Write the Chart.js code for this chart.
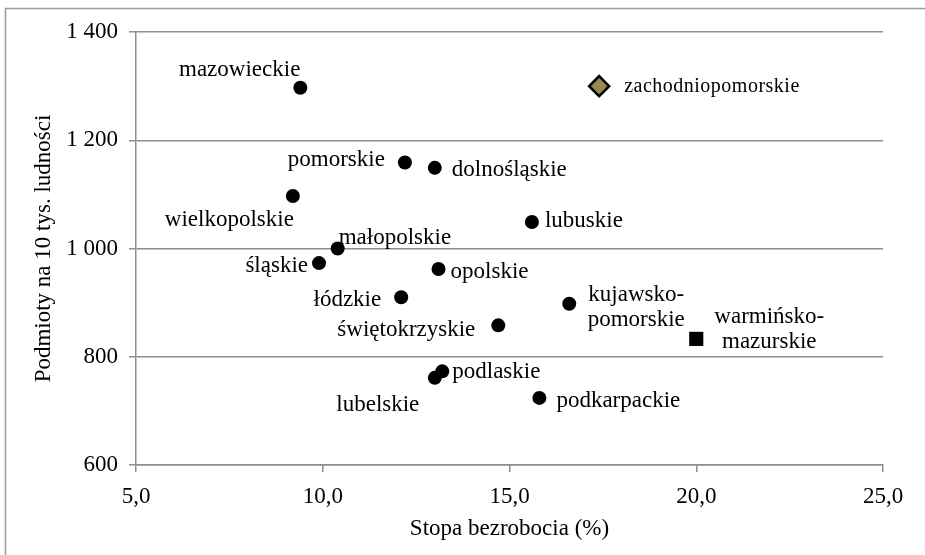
<!DOCTYPE html>
<html>
<head>
<meta charset="utf-8">
<script src="https://cdn.jsdelivr.net/npm/chart.js@4.4.1/dist/chart.umd.min.js"></script>
<style>
    html, body { margin: 0; padding: 0; background: #fff; overflow: hidden; }
    #wrap { width: 925px; height: 555px; position: relative; }
    #scatterChart { display: block; }
</style>
</head>
<body>
<div id="wrap"><canvas id="scatterChart"></canvas></div>
<script>
// --- data ---
const regions = [
    'mazowieckie', 'zachodniopomorskie', 'pomorskie', 'dolnośląskie', 'wielkopolskie',
    'lubuskie', 'małopolskie', 'śląskie', 'opolskie', 'łódzkie', 'kujawsko-pomorskie',
    'świętokrzyskie', 'warmińsko-mazurskie', 'podlaskie', 'lubelskie', 'podkarpackie'
];
const unemployment = [9.4, 17.4, 12.2, 13.0, 9.2, 15.6, 10.4, 9.9, 13.1, 12.1, 16.6, 14.7, 20.0, 13.2, 13.0, 15.8];
const entities = [1297, 1300, 1159, 1149, 1097, 1049, 1000, 973, 962, 910, 898, 858, 833, 773, 761, 724];
const xTicks = [5, 10, 15, 20, 25];
const yTicks = [600, 800, 1000, 1200, 1400];

// label placement relative to the marker (px)
const labelPlace = {
    'mazowieckie':         { dx: 0,   dy: [-12], align: 'right' },
    'zachodniopomorskie':  { dx: 25,  dy: [6],   align: 'left', size: 20, spacing: '0.5px' },
    'pomorskie':           { dx: -20, dy: [4],   align: 'right' },
    'dolnośląskie':        { dx: 17,  dy: [8],   align: 'left' },
    'wielkopolskie':       { dx: 1,   dy: [30],  align: 'right' },
    'lubuskie':            { dx: 13,  dy: [5],   align: 'left' },
    'małopolskie':         { dx: 1,   dy: [-5],  align: 'left' },
    'śląskie':             { dx: -11, dy: [9],   align: 'right' },
    'opolskie':            { dx: 12,  dy: [9],   align: 'left' },
    'łódzkie':             { dx: -20, dy: [9],   align: 'right' },
    'kujawsko-pomorskie':  { dx: 67,  dy: [-3, 22], align: 'center' },
    'świętokrzyskie':      { dx: -23, dy: [11],  align: 'right' },
    'warmińsko-mazurskie': { dx: 73,  dy: [-16, 9], align: 'center' },
    'podlaskie':           { dx: 10,  dy: [7],   align: 'left' },
    'lubelskie':           { dx: -57, dy: [33],  align: 'center' },
    'podkarpackie':        { dx: 17,  dy: [9],   align: 'left' }
};
const markerStyle = { 'zachodniopomorskie': 'rectRot', 'warmińsko-mazurskie': 'rect' };

const FONT = '"Liberation Serif", "Times New Roman", serif';
const GRID = '#8e8e8e';

function formatThousands(v) {
    return String(v).replace(/\B(?=(\d{3})+(?!\d))/g, ' ');
}

// outer frame (left and top edges only are visible)
const framePlugin = {
    id: 'frame',
    beforeDraw(chart) {
        const ctx = chart.ctx;
        ctx.save();
        ctx.strokeStyle = '#9a9a9a';
        ctx.lineWidth = 1.5;
        ctx.beginPath();
        ctx.moveTo(5.5, 555);
        ctx.lineTo(5.5, 8.5);
        ctx.lineTo(925, 8.5);
        ctx.stroke();
        ctx.restore();
    }
};

// region names next to the points
const pointLabels = {
    id: 'pointLabels',
    afterDatasetsDraw(chart) {
        const ctx = chart.ctx;
        const meta = chart.getDatasetMeta(0);
        ctx.save();
        ctx.fillStyle = '#000';
        ctx.textBaseline = 'alphabetic';
        meta.data.forEach((pt, i) => {
            const name = regions[i];
            const p = labelPlace[name];
            ctx.font = (p.size || 23) + 'px ' + FONT;
            ctx.textAlign = p.align;
            if ('letterSpacing' in ctx) ctx.letterSpacing = p.spacing || '0px';
            const lines = p.dy.length > 1 ? name.split(/(?<=-)/) : [name];
            lines.forEach((line, k) => ctx.fillText(line, pt.x + p.dx, pt.y + p.dy[k]));
        });
        ctx.restore();
    }
};

const ctxEl = document.getElementById('scatterChart');
if (ctxEl) {
    new Chart(ctxEl.getContext('2d'), {
        type: 'scatter',
        data: {
            datasets: [{
                data: regions.map((r, i) => ({ x: unemployment[i], y: entities[i] })),
                pointStyle: c => markerStyle[regions[c.dataIndex]] || 'circle',
                pointRadius: c => markerStyle[regions[c.dataIndex]] ? 10 : 7,
                backgroundColor: c => regions[c.dataIndex] === 'zachodniopomorskie' ? '#948a54' : '#000',
                borderColor: '#000',
                borderWidth: c => regions[c.dataIndex] === 'zachodniopomorskie' ? 2.5 : 0
            }]
        },
        options: {
            responsive: true,
            maintainAspectRatio: false,
            animation: false,
            layout: { padding: { top: 32, right: 42, left: 0, bottom: 0 } },
            plugins: {
                legend: { display: false },
                tooltip: { enabled: false }
            },
            scales: {
                x: {
                    type: 'linear',
                    min: 5,
                    max: 25,
                    afterBuildTicks: s => { s.ticks = xTicks.map(v => ({ value: v })); },
                    afterFit: s => { s.height = 90; },
                    border: { color: GRID, width: 1.5 },
                    grid: { drawOnChartArea: false, drawTicks: true, tickLength: 7, color: GRID, lineWidth: 1.5 },
                    ticks: {
                        color: '#000',
                        padding: 11,
                        font: { family: FONT, size: 23 },
                        callback: v => v.toFixed(1).replace('.', ',')
                    },
                    title: {
                        display: true,
                        text: 'Stopa bezrobocia (%)',
                        color: '#000',
                        font: { family: FONT, size: 23 },
                        padding: { top: 0, bottom: 12 }
                    }
                },
                y: {
                    type: 'linear',
                    min: 600,
                    max: 1400,
                    afterBuildTicks: s => { s.ticks = yTicks.map(v => ({ value: v })); },
                    afterFit: s => { s.width = 136; },
                    border: { color: GRID, width: 1.5 },
                    grid: { color: GRID, lineWidth: 1.5, tickLength: 7 },
                    ticks: {
                        color: '#000',
                        padding: 11,
                        font: { family: FONT, size: 23 },
                        callback: v => formatThousands(v)
                    },
                    title: {
                        display: true,
                        text: 'Podmioty na 10 tys. ludności',
                        color: '#000',
                        font: { family: FONT, size: 23 },
                        padding: { top: 30, bottom: 0 }
                    }
                }
            }
        },
        plugins: [framePlugin, pointLabels]
    });
} else {
    console.error("Canvas element 'scatterChart' not found.");
}
</script>
</body>
</html>
